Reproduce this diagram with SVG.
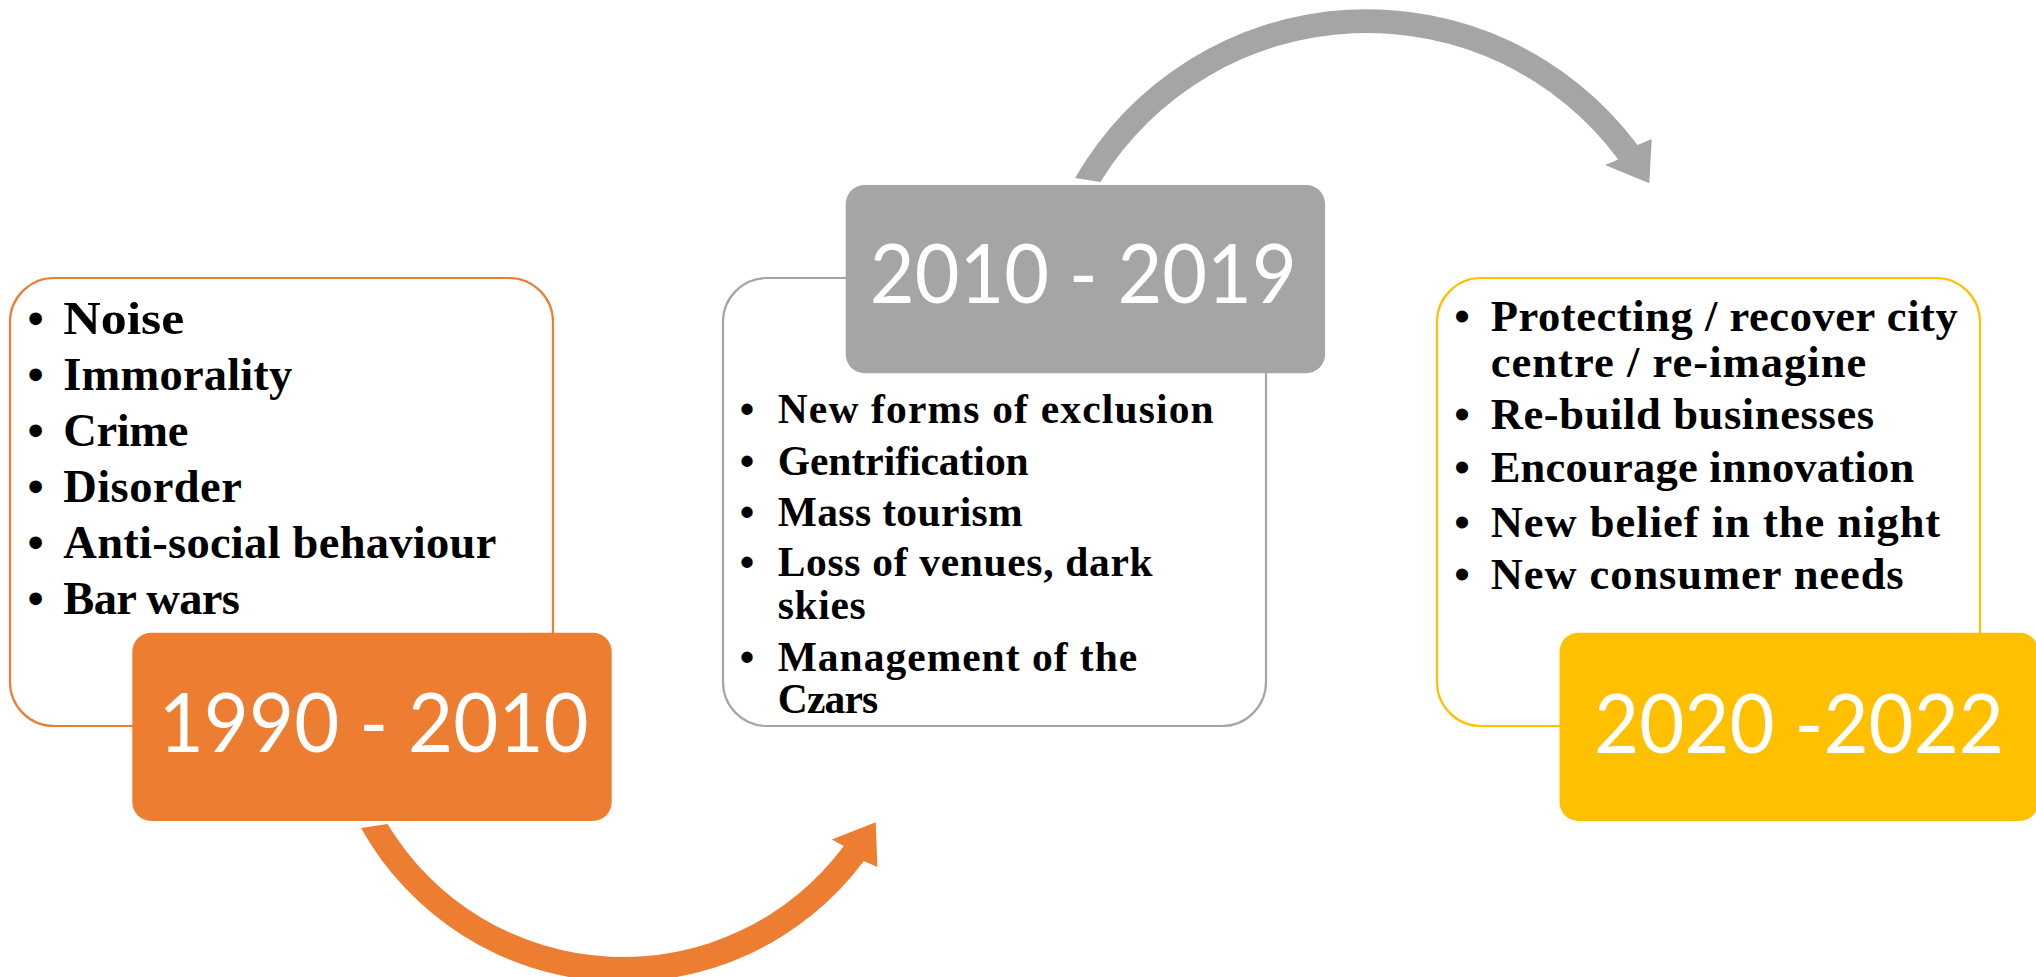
<svg xmlns="http://www.w3.org/2000/svg" width="2036" height="977" viewBox="0 0 2036 977">
  <style>
    .frame { fill: #FFFFFF; stroke-width: 2.2; }
    .f-orange { stroke: #ED7D31; }
    .f-gray { stroke: #A5A5A5; }
    .f-gold { stroke: #FFC000; }
    .tag { stroke: none; }
    .tag-text { font-family: Lato, "Open Sans", sans-serif; font-size: 81px; fill: #FFFFFF; text-anchor: middle; }
    .item { font-family: "Liberation Serif", "Times New Roman", serif; font-weight: bold; fill: #000000; }
    .dot { text-anchor: middle; }
    .l { font-size: 46.5px; }
    .m { font-size: 41.5px; }
    .r { font-size: 44.5px; }
  </style>

  <!-- period arrows -->
  <g id="connectors">
    <path id="arrow-1990-to-2010" fill="#ED7D31"
          d="M 361,828 A 300 300 0 0 0 863.8,860.9 L 877.4,866.9 L 875.7,822.3 L 831.8,839.4 L 843.8,846 A 275 275 0 0 1 387.5,824 Z"/>
    <path id="arrow-2010-to-2020" fill="#A5A5A5"
          d="M 1075,178 A 337 337 0 0 1 1637.5,145.1 L 1651.7,139 L 1649.3,183.3 L 1605,165 L 1618.3,159.4 A 313 313 0 0 0 1100.4,182 Z"/>
  </g>

  <!-- 1990 - 2010 -->
  <g id="period-1990-2010">
    <rect class="frame f-orange" x="10" y="278" width="543" height="448" rx="44" ry="44"/>
    <g class="item l">
      <text class="dot" x="35.6" y="334">•</text>
      <text x="63.3" y="334" textLength="121" lengthAdjust="spacingAndGlyphs">Noise</text>
      <text class="dot" x="35.6" y="390">•</text>
      <text x="63.3" y="390" textLength="229" lengthAdjust="spacing">Immorality</text>
      <text class="dot" x="35.6" y="446">•</text>
      <text x="63.3" y="446" textLength="125" lengthAdjust="spacing">Crime</text>
      <text class="dot" x="35.6" y="502">•</text>
      <text x="63.3" y="502" textLength="178.5" lengthAdjust="spacing">Disorder</text>
      <text class="dot" x="35.6" y="558">•</text>
      <text x="63.3" y="558" textLength="433" lengthAdjust="spacing">Anti-social behaviour</text>
      <text class="dot" x="35.6" y="614">•</text>
      <text x="63.3" y="614" textLength="176.5" lengthAdjust="spacing">Bar wars</text>
    </g>
    <rect class="tag" fill="#ED7D31" x="132.3" y="632.7" width="479.4" height="188.3" rx="19" ry="19"/>
    <text class="tag-text" x="373.7" y="751.7" textLength="430" lengthAdjust="spacingAndGlyphs">1990 - 2010</text>
  </g>

  <!-- 2010 - 2019 -->
  <g id="period-2010-2019">
    <rect class="frame f-gray" x="723" y="278" width="543" height="448" rx="44" ry="44"/>
    <rect class="tag" fill="#A5A5A5" x="845.7" y="185" width="479.4" height="188.3" rx="19" ry="19"/>
    <text class="tag-text" x="1083.3" y="303.3" textLength="427" lengthAdjust="spacingAndGlyphs">2010 - 2019</text>
    <g class="item m">
      <text class="dot" x="747" y="423.4">•</text>
      <text x="777.7" y="423.4" textLength="436" lengthAdjust="spacing">New forms of exclusion</text>
      <text class="dot" x="747" y="474.5">•</text>
      <text x="777.7" y="474.5" textLength="251" lengthAdjust="spacing">Gentrification</text>
      <text class="dot" x="747" y="526.3">•</text>
      <text x="777.7" y="526.3" textLength="245" lengthAdjust="spacing">Mass tourism</text>
      <text class="dot" x="747" y="576.2">•</text>
      <text x="777.7" y="576.2" textLength="375" lengthAdjust="spacing">Loss of venues, dark</text>
      <text x="777.7" y="618.8" textLength="88" lengthAdjust="spacing">skies</text>
      <text class="dot" x="747" y="670.5">•</text>
      <text x="777.7" y="670.5" textLength="359.5" lengthAdjust="spacing">Management of the</text>
      <text x="777.7" y="713" textLength="100.5" lengthAdjust="spacing">Czars</text>
    </g>
  </g>

  <!-- 2020 - 2022 -->
  <g id="period-2020-2022">
    <rect class="frame f-gold" x="1437" y="278" width="543" height="448" rx="44" ry="44"/>
    <g class="item r">
      <text class="dot" x="1462" y="331">•</text>
      <text x="1490.7" y="331" textLength="467" lengthAdjust="spacing">Protecting / recover city</text>
      <text x="1490.7" y="377.2" textLength="375.5" lengthAdjust="spacing">centre / re-imagine</text>
      <text class="dot" x="1462" y="429.2">•</text>
      <text x="1490.7" y="429.2" textLength="383.5" lengthAdjust="spacing">Re-build businesses</text>
      <text class="dot" x="1462" y="482">•</text>
      <text x="1490.7" y="482" textLength="423.5" lengthAdjust="spacing">Encourage innovation</text>
      <text class="dot" x="1462" y="536.6">•</text>
      <text x="1490.7" y="536.6" textLength="449.5" lengthAdjust="spacing">New belief in the night</text>
      <text class="dot" x="1462" y="589.3">•</text>
      <text x="1490.7" y="589.3" textLength="413" lengthAdjust="spacing">New consumer needs</text>
    </g>
    <rect class="tag" fill="#FFC000" x="1559.5" y="632.7" width="479" height="188.3" rx="19" ry="19"/>
    <text class="tag-text" x="1799" y="753" textLength="410" lengthAdjust="spacingAndGlyphs">2020 -2022</text>
  </g>
</svg>
